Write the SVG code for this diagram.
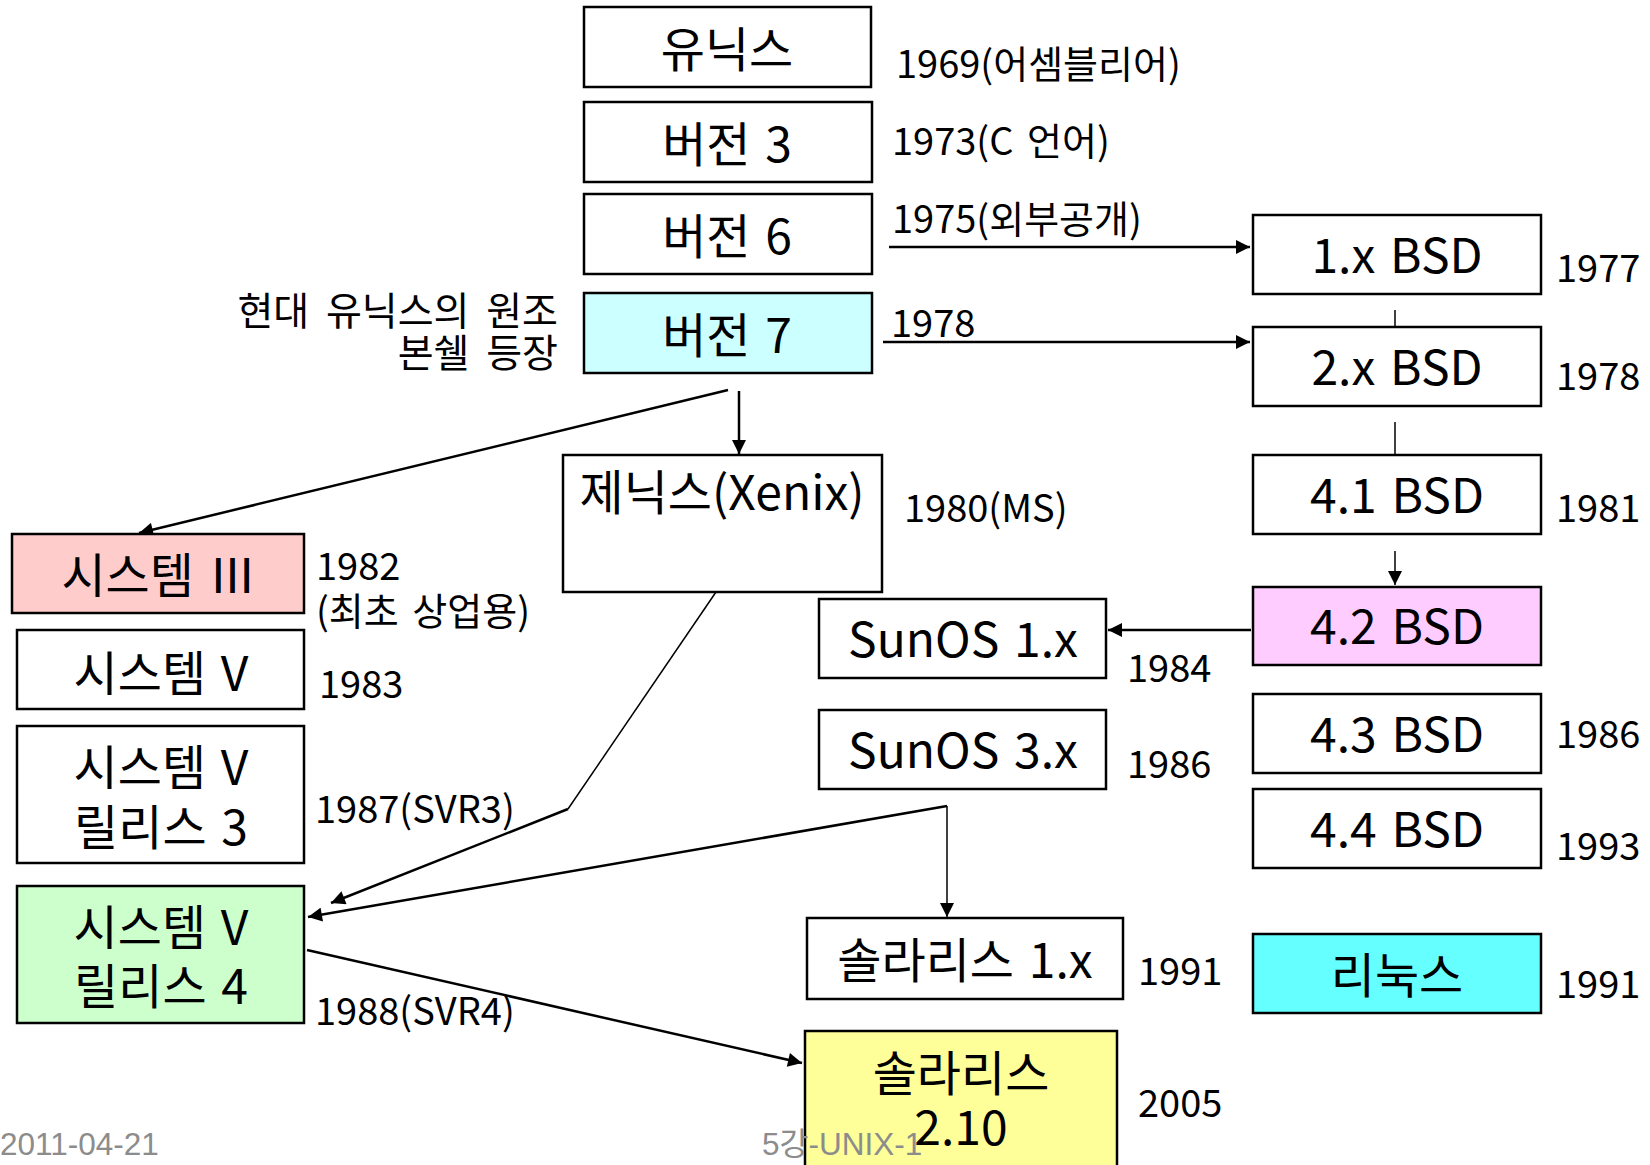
<svg xmlns="http://www.w3.org/2000/svg" width="1650" height="1165" viewBox="0 0 1650 1165">
<style>
.box{stroke:#000;stroke-width:2.5;fill:#fff}
.bt{font-family:"Noto Sans CJK KR","Noto Sans",sans-serif;font-size:48px;fill:#000;text-anchor:middle;word-spacing:4px}
.lb{font-family:"Noto Sans CJK KR","Noto Sans",sans-serif;font-size:38px;fill:#000;word-spacing:5px}
.an{font-family:"Noto Sans CJK KR","Noto Sans",sans-serif;font-size:39px;fill:#000;word-spacing:8px;text-anchor:end}
.ft{font-family:"Liberation Sans","Noto Sans CJK KR",sans-serif;font-size:31.5px;fill:#8c8c8c}
.c{stroke:#000;stroke-width:2.5;fill:none}
.ct{stroke:#000;stroke-width:1.5;fill:none}
</style>
<defs>
<marker id="arr" viewBox="0 0 10 10" refX="10" refY="5" markerWidth="16" markerHeight="14" markerUnits="userSpaceOnUse" orient="auto"><path d="M0,0 L10,5 L0,10 z" fill="#000"/></marker>
</defs>
<g id="connectors">
<line class="c" x1="889" y1="247" x2="1250" y2="247" marker-end="url(#arr)"/>
<line class="c" x1="883" y1="342" x2="1250" y2="342" marker-end="url(#arr)"/>
<line class="ct" x1="1395" y1="310" x2="1395" y2="327"/>
<line class="ct" x1="1395" y1="422" x2="1395" y2="455"/>
<line class="ct" x1="1395" y1="551" x2="1395" y2="585" marker-end="url(#arr)"/>
<line class="c" x1="1251" y1="630" x2="1108" y2="630" marker-end="url(#arr)"/>
<line class="c" x1="739" y1="391" x2="739" y2="454" marker-end="url(#arr)"/>
<line class="c" x1="728" y1="390" x2="139" y2="533" marker-end="url(#arr)"/>
<polyline class="ct" points="716,592 568,809"/>
<line class="c" x1="568" y1="809" x2="331" y2="903" marker-end="url(#arr)"/>
<line class="c" x1="947" y1="806" x2="308" y2="917" marker-end="url(#arr)"/>
<line class="ct" x1="947" y1="806" x2="947" y2="917" marker-end="url(#arr)"/>
<line class="c" x1="307" y1="950" x2="802" y2="1063" marker-end="url(#arr)"/>
</g>
<g id="n-unix"><rect class="box" x="584" y="7" width="287" height="80"/><text class="bt" x="727" y="67">유닉스</text></g>
<g id="n-v3"><rect class="box" x="584" y="102" width="288" height="80"/><text class="bt" x="727" y="162">버전 3</text></g>
<g id="n-v6"><rect class="box" x="584" y="194" width="288" height="80"/><text class="bt" x="727" y="254">버전 6</text></g>
<g id="n-v7"><rect class="box" x="584" y="293" width="288" height="80" style="fill:#ccffff"/><text class="bt" x="727" y="353">버전 7</text></g>
<g id="n-bsd1"><rect class="box" x="1253" y="215" width="288" height="79"/><text class="bt" x="1397" y="273">1.x BSD</text></g>
<g id="n-bsd2"><rect class="box" x="1253" y="327" width="288" height="79"/><text class="bt" x="1397" y="385">2.x BSD</text></g>
<g id="n-bsd41"><rect class="box" x="1253" y="455" width="288" height="79"/><text class="bt" x="1397" y="513">4.1 BSD</text></g>
<g id="n-bsd42"><rect class="box" x="1253" y="587" width="288" height="78" style="fill:#ffccff"/><text class="bt" x="1397" y="644">4.2 BSD</text></g>
<g id="n-bsd43"><rect class="box" x="1253" y="694" width="288" height="79"/><text class="bt" x="1397" y="752">4.3 BSD</text></g>
<g id="n-bsd44"><rect class="box" x="1253" y="789" width="288" height="79"/><text class="bt" x="1397" y="847">4.4 BSD</text></g>
<g id="n-linux"><rect class="box" x="1253" y="934" width="288" height="79" style="fill:#66ffff"/><text class="bt" x="1397" y="993">리눅스</text></g>
<g id="n-xenix"><rect class="box" x="563" y="455" width="319" height="137"/><text class="bt" x="722" y="510">제닉스(Xenix)</text></g>
<g id="n-sys3"><rect class="box" x="12" y="534" width="292" height="79" style="fill:#ffcccc"/><text class="bt" x="159" y="593">시스템 Ⅲ</text></g>
<g id="n-sysv"><rect class="box" x="17" y="630" width="287" height="79"/><text class="bt" x="161" y="691">시스템 V</text></g>
<g id="n-svr3"><rect class="box" x="17" y="726" width="287" height="137"/><text class="bt" x="161" y="785">시스템 V</text><text class="bt" x="161" y="845">릴리스 3</text></g>
<g id="n-svr4"><rect class="box" x="17" y="886" width="287" height="137" style="fill:#ccffcc"/><text class="bt" x="161" y="945">시스템 V</text><text class="bt" x="161" y="1004">릴리스 4</text></g>
<g id="n-sunos1"><rect class="box" x="819" y="599" width="287" height="79"/><text class="bt" x="963" y="657">SunOS 1.x</text></g>
<g id="n-sunos3"><rect class="box" x="819" y="710" width="287" height="79"/><text class="bt" x="963" y="768">SunOS 3.x</text></g>
<g id="n-sol1"><rect class="box" x="807" y="918" width="316" height="81"/><text class="bt" x="965" y="978">솔라리스 1.x</text></g>
<g id="n-sol210"><rect class="box" x="805" y="1031" width="312" height="145" style="fill:#ffff99"/><text class="bt" x="961" y="1091">솔라리스</text><text class="bt" x="961" y="1145">2.10</text></g>
<g id="labels">
<text class="lb" x="896" y="78">1969(어셈블리어)</text>
<text class="lb" x="892" y="155">1973(C 언어)</text>
<text class="lb" x="892" y="233">1975(외부공개)</text>
<text class="lb" x="891" y="337">1978</text>
<text class="lb" x="1556" y="282">1977</text>
<text class="lb" x="1556" y="390">1978</text>
<text class="lb" x="1556" y="522">1981</text>
<text class="lb" x="904" y="522">1980(MS)</text>
<text class="lb" x="1556" y="748">1986</text>
<text class="lb" x="1556" y="860">1993</text>
<text class="lb" x="1556" y="998">1991</text>
<text class="lb" x="1127" y="682">1984</text>
<text class="lb" x="1127" y="778">1986</text>
<text class="lb" x="1138" y="985">1991</text>
<text class="lb" x="1138" y="1117">2005</text>
<text class="lb" x="316" y="580">1982</text>
<text class="lb" x="316" y="625">(최초 상업용)</text>
<text class="lb" x="319" y="698">1983</text>
<text class="lb" x="315" y="823">1987(SVR3)</text>
<text class="lb" x="315" y="1025">1988(SVR4)</text>
<text class="an" x="558" y="325">현대 유닉스의 원조</text>
<text class="an" x="558" y="367">본쉘 등장</text>
</g>
<g id="footer">
<text class="ft" x="0" y="1155">2011-04-21</text>
<text class="ft" x="762" y="1155">5강-UNIX-1</text>
</g>
</svg>
